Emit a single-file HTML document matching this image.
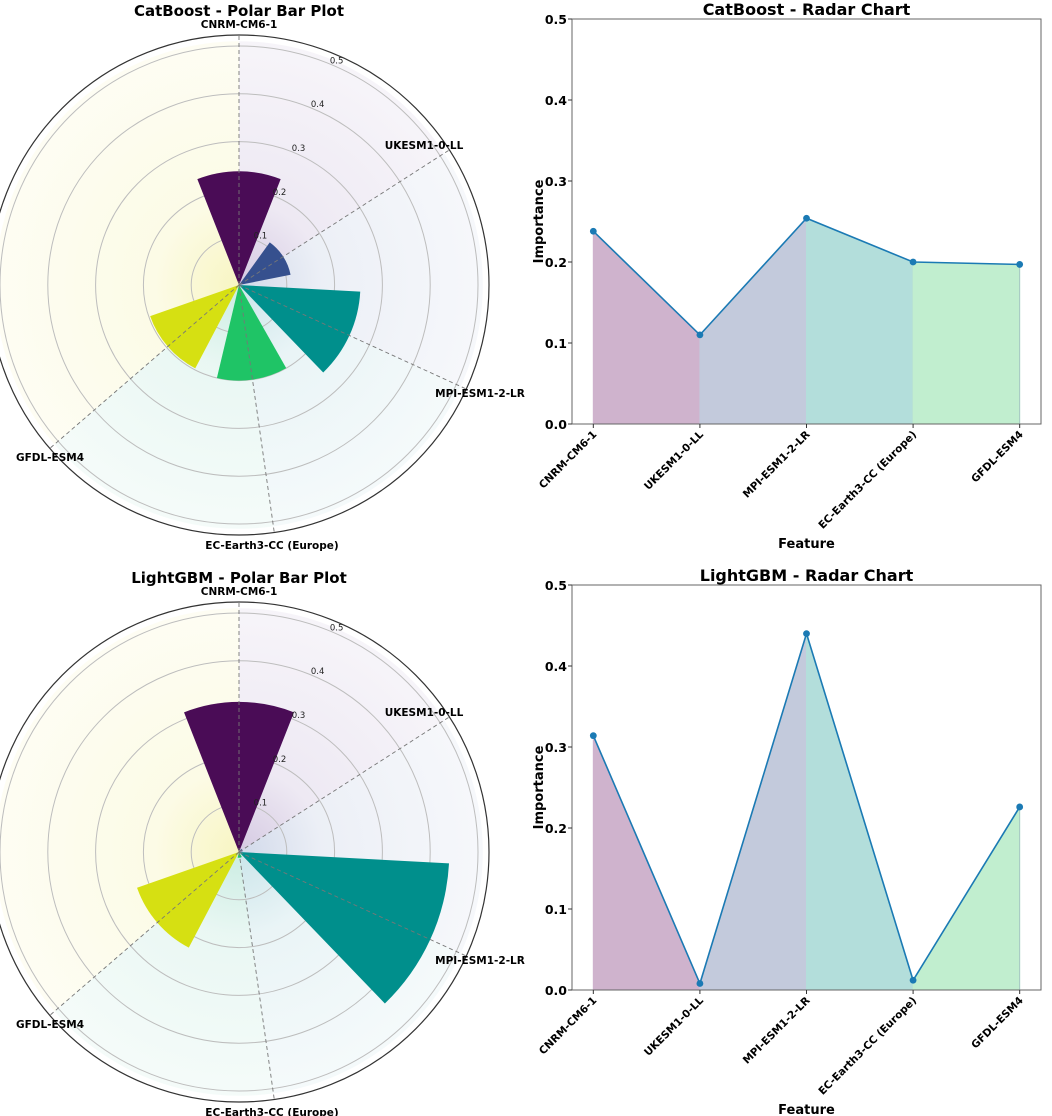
<!DOCTYPE html>
<html><head><meta charset="utf-8">
<style>
html,body{margin:0;padding:0;background:#fff;}
svg{display:block;font-family:"DejaVu Sans","Liberation Sans",sans-serif;}
</style></head>
<body>
<svg id="fig" width="1052" height="1116" viewBox="0 0 1052 1116" xmlns="http://www.w3.org/2000/svg">
<defs id="defs"></defs>
</svg>
<script>
const categories = ["CNRM-CM6-1","UKESM1-0-LL","MPI-ESM1-2-LR","EC-Earth3-CC (Europe)","GFDL-ESM4"];
const catboostValues = [0.238, 0.110, 0.254, 0.200, 0.197];
const lightgbmValues = [0.314, 0.008, 0.440, 0.012, 0.226];
const modelNames = ["CatBoost","LightGBM"];
const rTicks = [0.1,0.2,0.3,0.4,0.5];
const yTicks = [0.0,0.1,0.2,0.3,0.4,0.5];

const NS = "http://www.w3.org/2000/svg";
const svg = document.getElementById('fig');
const defs = document.getElementById('defs');
const barColors = ["#4a0c56","#36508e","#008f8c","#1fc466","#d6e012"];
const bgColors = ["#b9a6cf","#b3c0dc","#a9d4dc","#a8e0cf","#f3ef9a"];
const fillColors = ["#cfb3cd","#c3cadc","#b3dedb","#c1eecf"];
function mk(tag, attrs, parent){const e=document.createElementNS(NS,tag);for(const k in attrs)e.setAttribute(k,attrs[k]);(parent||svg).appendChild(e);return e;}

const polarLabelPos = [[239,24],[424,145],[480,393],[272,545],[50,457]];

function polar(vals, name, oy){
  const g = mk('g',{});
  
  
  const cx=239, cy=285+oy, k=478, rOuter=250;
  const rad = v => v*k;
  const pt = (th,r)=>[cx+r*Math.sin(th), cy-r*Math.cos(th)];
  const starts=[0,1,2,3,4], ends=[1,2,3,4,2*Math.PI];
  for(let i=0;i<5;i++){
    const gid='bg'+name+i;
    const rg=mk('radialGradient',{id:gid,cx:cx,cy:cy,r:rad(0.5),gradientUnits:'userSpaceOnUse'},defs);
    mk('stop',{offset:'0','stop-color':bgColors[i],'stop-opacity':0.6},rg);
    mk('stop',{offset:'0.35','stop-color':bgColors[i],'stop-opacity':0.25},rg);
    mk('stop',{offset:'1','stop-color':bgColors[i],'stop-opacity':0.12},rg);
    const r=rad(0.51);
    const a=pt(starts[i],r), b=pt(ends[i],r);
    const large=(ends[i]-starts[i])>Math.PI?1:0;
    const p=mk('path',{d:`M${cx},${cy} L${a[0]},${a[1]} A${r},${r} 0 ${large} 1 ${b[0]},${b[1]} Z`,fill:`url(#${gid})`},g);
    
    
  }
  rTicks.forEach(v=>{
    const c=mk('circle',{cx:cx,cy:cy,r:rad(v),fill:'none',stroke:'#bdbdbd','stroke-width':1},g);
    
    
  });
  const oc=mk('circle',{cx:cx,cy:cy,r:rOuter,fill:'none',stroke:'#333','stroke-width':1.2},g);
  
  
  const w=0.75;
  vals.forEach((v,i)=>{
    const th=i, r=rad(v);
    const a=pt(th-w/2,r), b=pt(th+w/2,r);
    const p=mk('path',{d:`M${cx},${cy} L${a[0]},${a[1]} A${r},${r} 0 0 1 ${b[0]},${b[1]} Z`,fill:barColors[i]},g);
    
    
  });
  categories.forEach((c,i)=>{
    const e=pt(i,rOuter);
    const l=mk('line',{x1:cx,y1:cy,x2:e[0],y2:e[1],stroke:'#777','stroke-width':0.9,'stroke-dasharray':'4,3'},g);
    
    
    const tx=mk('text',{x:polarLabelPos[i][0],y:polarLabelPos[i][1]+oy+4,'text-anchor':'middle','font-size':10.5,'font-weight':'bold'},g);
    tx.textContent=c;
    
    
  });
  rTicks.forEach(v=>{
    const p=pt(0.41,rad(v)+6);
    const tx=mk('text',{x:p[0],y:p[1]+3,'text-anchor':'middle','font-size':8.5,fill:'#222'},g);
    tx.textContent=v.toFixed(1);
    
    
  });
  const t = mk('text',{x:cx,y:16+oy,'text-anchor':'middle','font-size':15,'font-weight':'bold'},g);
  t.textContent = name+' - Polar Bar Plot';
  
  
}

function radar(vals, name, oy){
  const g=mk('g',{});
  
  
  const L=572,R=1041,T=19+oy,B=424+oy;
  const x=i=>L+(i+0.2)*(R-L)/4.4;
  const y=v=>B-(v/0.5)*(B-T);
  const t=mk('text',{x:(L+R)/2,y:15+oy,'text-anchor':'middle','font-size':16,'font-weight':'bold'},g);
  t.textContent=name+' - Radar Chart';
  
  
  for(let i=0;i<vals.length-1;i++){
    const p=mk('path',{d:`M${x(i)},${y(0)} L${x(i)},${y(vals[i])} L${x(i+1)},${y(vals[i+1])} L${x(i+1)},${y(0)} Z`,fill:fillColors[i],stroke:fillColors[i],'stroke-width':1},g);
    
    
    const ln=mk('line',{x1:x(i+1),y1:y(0),x2:x(i+1),y2:y(vals[i+1]),stroke:'#8aa0b8','stroke-width':0.8,'stroke-opacity':0.6},g);
    
    
  }
  const pl=mk('polyline',{points:vals.map((v,i)=>x(i)+','+y(v)).join(' '),fill:'none',stroke:'#1b7ab4','stroke-width':1.6},g);
  
  
  vals.forEach((v,i)=>{
    const c=mk('circle',{cx:x(i),cy:y(v),r:3.4,fill:'#1b7ab4'},g);
    
    
  });
  const fr=mk('rect',{x:L,y:T,width:R-L,height:B-T,fill:'none',stroke:'#666','stroke-width':1},g);
  
  
  yTicks.forEach(v=>{
    const tk=mk('line',{x1:L-4,x2:L,y1:y(v),y2:y(v),stroke:'#333'},g);
    
    
    const tx=mk('text',{x:L-5,y:y(v)+5,'text-anchor':'end','font-size':12.5,'font-weight':'bold'},g);
    tx.textContent=v.toFixed(1);
    
    
  });
  categories.forEach((c,i)=>{
    const tk=mk('line',{x1:x(i),x2:x(i),y1:B,y2:B+4,stroke:'#333'},g);
    
    
    const tx=mk('text',{x:x(i)+4,y:B+11,'text-anchor':'end','font-size':10.5,'font-weight':'bold',transform:`rotate(-45 ${x(i)+4} ${B+11})`},g);
    tx.textContent=c;
    
    
  });
  const yl=mk('text',{x:0,y:0,'text-anchor':'middle','font-size':13,'font-weight':'bold',transform:`translate(543 ${(T+B)/2}) rotate(-90)`},g);
  yl.textContent='Importance';
  
  
  const xl=mk('text',{x:(L+R)/2,y:B+124,'text-anchor':'middle','font-size':13,'font-weight':'bold'},g);
  xl.textContent='Feature';
  
  
}

polar(catboostValues, modelNames[0], 0);
radar(catboostValues, modelNames[0], 0);
polar(lightgbmValues, modelNames[1], 567);
radar(lightgbmValues, modelNames[1], 566);
</script>
</body></html>
